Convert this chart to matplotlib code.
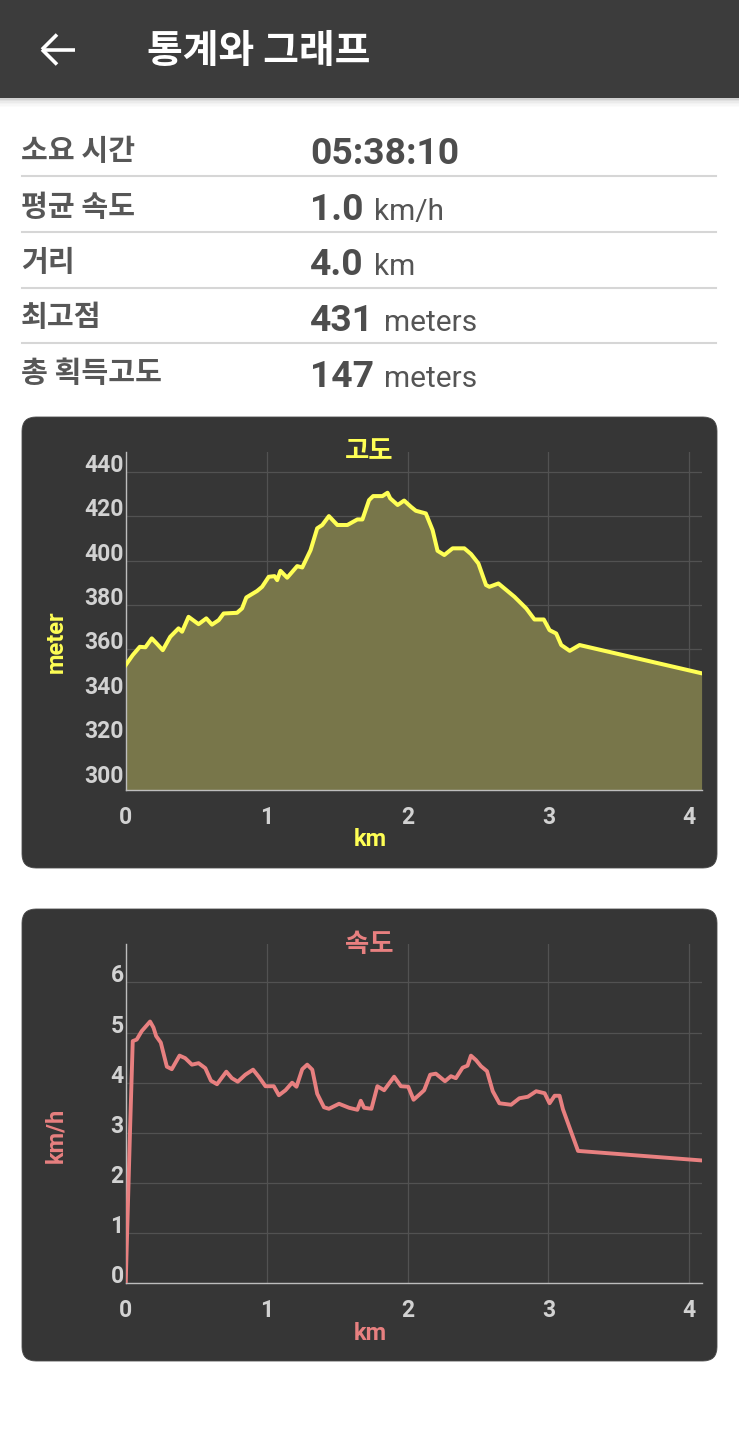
import matplotlib
matplotlib.use("Agg")
import matplotlib.pyplot as plt
from matplotlib.patches import FancyBboxPatch, Rectangle
from matplotlib.lines import Line2D

# ---------------- data ----------------
header_title = "통계와 그래프"
stat_labels = ["소요 시간", "평균 속도", "거리", "최고점", "총 획득고도"]
stat_values = ["05:38:10", "1.0", "4.0", "431", "147"]
stat_units = ["", "km/h", "km", "meters", "meters"]

elev_km = [0.0, 0.05, 0.10, 0.14, 0.185, 0.22, 0.263, 0.316, 0.375, 0.40, 0.446,
           0.517, 0.572, 0.612, 0.66, 0.695, 0.79, 0.826, 0.856, 0.932, 0.968,
           1.015, 1.056, 1.075, 1.098, 1.146, 1.217, 1.253, 1.312, 1.359, 1.395,
           1.442, 1.502, 1.573, 1.644, 1.68, 1.727, 1.756, 1.822, 1.858, 1.877,
           1.93, 1.976, 2.024, 2.059, 2.13, 2.178, 2.213, 2.261, 2.32, 2.403,
           2.451, 2.503, 2.557, 2.581, 2.645, 2.759, 2.842, 2.901, 2.967, 3.008,
           3.055, 3.091, 3.151, 3.221, 4.087]
elev_m = [353, 357.5, 361.2, 361, 365, 362.7, 359.7, 365.7, 369.5, 368, 374.7,
          371.4, 374, 371.2, 373.2, 376.2, 376.5, 378.5, 383.4, 386.3, 388.2,
          392.7, 393, 391.2, 395.4, 392.3, 397.5, 396.9, 404.7, 414.5, 416,
          420, 416, 416, 418.5, 418.5, 427.2, 429, 429, 430.5, 428,
          425, 427, 424.2, 422.4, 421.2, 413.7, 404.4, 402.5, 405.5, 405.5,
          402.9, 398.7, 389, 388.2, 389.7, 383.7, 378.5, 373.5, 373.5, 368.7,
          367.2, 362, 359.4, 362, 349.3]

spd_km = [0.0, 0.031, 0.05, 0.078, 0.114, 0.173, 0.197, 0.216, 0.249, 0.292,
          0.327, 0.382, 0.422, 0.47, 0.517, 0.565, 0.605, 0.648, 0.714, 0.754,
          0.795, 0.849, 0.904, 0.944, 0.992, 1.051, 1.087, 1.134, 1.181, 1.212,
          1.253, 1.288, 1.324, 1.359, 1.407, 1.442, 1.514, 1.585, 1.644, 1.668,
          1.692, 1.744, 1.786, 1.834, 1.905, 1.953, 2.005, 2.043, 2.083, 2.118,
          2.161, 2.201, 2.266, 2.308, 2.343, 2.391, 2.426, 2.45, 2.486, 2.521,
          2.564, 2.605, 2.652, 2.735, 2.794, 2.854, 2.913, 2.973, 3.008, 3.044,
          3.079, 3.103, 3.21, 4.087]
spd_kmh = [0.0, 3.07, 4.83, 4.86, 5.03, 5.22, 5.1, 4.93, 4.8, 4.32,
           4.27, 4.54, 4.49, 4.36, 4.39, 4.29, 4.04, 3.97, 4.22, 4.09,
           4.02, 4.16, 4.26, 4.12, 3.93, 3.93, 3.75, 3.85, 4.0, 3.92,
           4.27, 4.36, 4.26, 3.78, 3.51, 3.48, 3.58, 3.5, 3.46, 3.64,
           3.5, 3.48, 3.93, 3.85, 4.12, 3.93, 3.92, 3.66, 3.76, 3.85,
           4.16, 4.18, 4.03, 4.13, 4.09, 4.3, 4.34, 4.54, 4.45, 4.33,
           4.23, 3.83, 3.59, 3.56, 3.69, 3.72, 3.83, 3.79, 3.59, 3.74,
           3.74, 3.47, 2.64, 2.45]

x_ticks = [0, 1, 2, 3, 4]
elev_ticks = [300, 320, 340, 360, 380, 400, 420, 440]
spd_ticks = [0, 1, 2, 3, 4, 5, 6]

# ---------------- style ----------------
KR = "Noto Sans CJK KR"
W, H = 739, 1440
fig = plt.figure(figsize=(W / 100, H / 100), dpi=100)
fig.patch.set_facecolor("white")

bg = fig.add_axes([0, 0, 1, 1], zorder=0)
bg.set_xlim(0, W)
bg.set_ylim(H, 0)
bg.axis("off")

# header bar + shadow
bg.add_patch(Rectangle((0, 0), W, 98, color="#3c3c3c", lw=0))
for i, a in enumerate([0.18, 0.12, 0.08, 0.05, 0.03, 0.015]):
    bg.add_patch(Rectangle((0, 98 + i * 1.5), W, 1.5, color="black", alpha=a, lw=0))
# back arrow
for seg in [((42, 75), (49.5, 49.5)), ((42, 57), (49.5, 34.5)), ((42, 57), (49.5, 64.5))]:
    bg.add_line(Line2D(seg[0], seg[1], color="white", lw=2.6, solid_capstyle="butt"))
bg.text(147, 51, header_title, color="white", fontsize=28, fontweight="bold",
        family=[KR], ha="left", va="center")

# stats rows
label_y = [151, 207, 262, 317, 373]
base_y = [164.5, 219.8, 275, 331, 387]
sep_y = [176, 232, 288, 343]
for yy in sep_y:
    bg.add_line(Line2D([22, 716], [yy, yy], color="#d6d6d6", lw=1.5))
val_texts = []
for lab, val, ly, by in zip(stat_labels, stat_values, label_y, base_y):
    bg.text(21, ly, lab, color="#575757", fontsize=21, fontweight="bold",
            family=[KR], ha="left", va="center")
    t = bg.text(310, by, val, color="#4d4d4d", fontsize=26.8, fontweight="bold",
                family=["Roboto", "DejaVu Sans"], ha="left", va="baseline")
    val_texts.append(t)

fig.canvas.draw()
r = fig.canvas.get_renderer()
for t, unit, by in zip(val_texts, stat_units, base_y):
    if unit:
        x1 = t.get_window_extent(r).x1
        bg.text(x1 + 10, by, unit, color="#555555", fontsize=21.5,
                family=["Roboto", "DejaVu Sans"], ha="left", va="baseline")

# cards
CARD = "#363636"
for (top, bot) in [(417, 868), (909, 1361)]:
    bg.add_patch(FancyBboxPatch((22, top), 695, bot - top,
                                boxstyle="round,pad=0,rounding_size=14",
                                fc=CARD, ec="#4a4a4a", lw=0.6))

def style_axes(ax, color, title, ylab, title_y, xlab_y, ylab_y, ticks, ylim):
    ax.set_facecolor("none")
    ax.set_xlim(0, 4.087)
    ax.set_ylim(*ylim)
    ax.set_xticks(x_ticks)
    ax.set_yticks(ticks)
    ax.set_xticklabels([str(v) for v in x_ticks])
    ax.set_yticklabels([str(v) for v in ticks])
    ax.grid(True, color="#525252", lw=0.9)
    ax.set_axisbelow(True)
    for s in ["top", "right"]:
        ax.spines[s].set_visible(False)
    for s in ["left", "bottom"]:
        ax.spines[s].set_color("#bdbdbd")
        ax.spines[s].set_linewidth(1.0)
    ax.tick_params(axis="both", length=0, labelcolor="#d2d2d2", labelsize=16.5)
    ax.tick_params(axis="x", pad=11.5)
    ax.tick_params(axis="y", pad=1.5)
    for lab in ax.get_xticklabels() + ax.get_yticklabels():
        lab.set_fontweight("bold")
        lab.set_family(["Roboto", "DejaVu Sans"])
    for lab in ax.get_yticklabels():
        lab.set_verticalalignment("baseline")
    ax.set_xlabel("km", color=color, fontsize=17, fontweight="bold",
                  family=["Roboto", "DejaVu Sans"])
    ax.xaxis.label.set_va("center")
    ax.set_ylabel(ylab, color=color, fontsize=17, fontweight="bold",
                  family=["Roboto", "DejaVu Sans"])
    ax.yaxis.label.set_va("center")
    pos = ax.get_position()
    top_px = (1 - pos.y1) * H
    bot_px = (1 - pos.y0) * H
    left_px = pos.x0 * W
    width_px = pos.width * W
    hgt = bot_px - top_px
    ax.xaxis.set_label_coords((370 - left_px) / width_px, (bot_px - xlab_y) / hgt)
    ax.yaxis.set_label_coords((56 - left_px) / width_px, (bot_px - ylab_y) / hgt)
    fig.text(369 / W, 1 - title_y / H, title, color=color, fontsize=19,
             fontweight="bold", family=[KR], ha="center", va="center", zorder=5)

# elevation chart
YEL = "#ffff55"
ax1 = fig.add_axes([125.7 / W, 1 - 790 / H, 575.9 / W, 337.7 / H], zorder=2)
ax1.fill_between(elev_km, elev_m, 296.8, color="#78764a", lw=0, zorder=2)
ax1.plot(elev_km, elev_m, color=YEL, lw=2.9, zorder=3, solid_joinstyle="round")
style_axes(ax1, YEL, "고도", "meter", 452, 840, 642, elev_ticks, (296.8, 448.7))

# speed chart
RED = "#e88080"
ax2 = fig.add_axes([125.7 / W, 1 - 1283.3 / H, 575.9 / W, 339 / H], zorder=2)
ax2.plot(spd_km, spd_kmh, color=RED, lw=2.8, zorder=3, solid_joinstyle="round")
style_axes(ax2, RED, "속도", "km/h", 945, 1333, 1135, spd_ticks, (0, 6.76))

fig.savefig("out.png", dpi=100, facecolor="white")
